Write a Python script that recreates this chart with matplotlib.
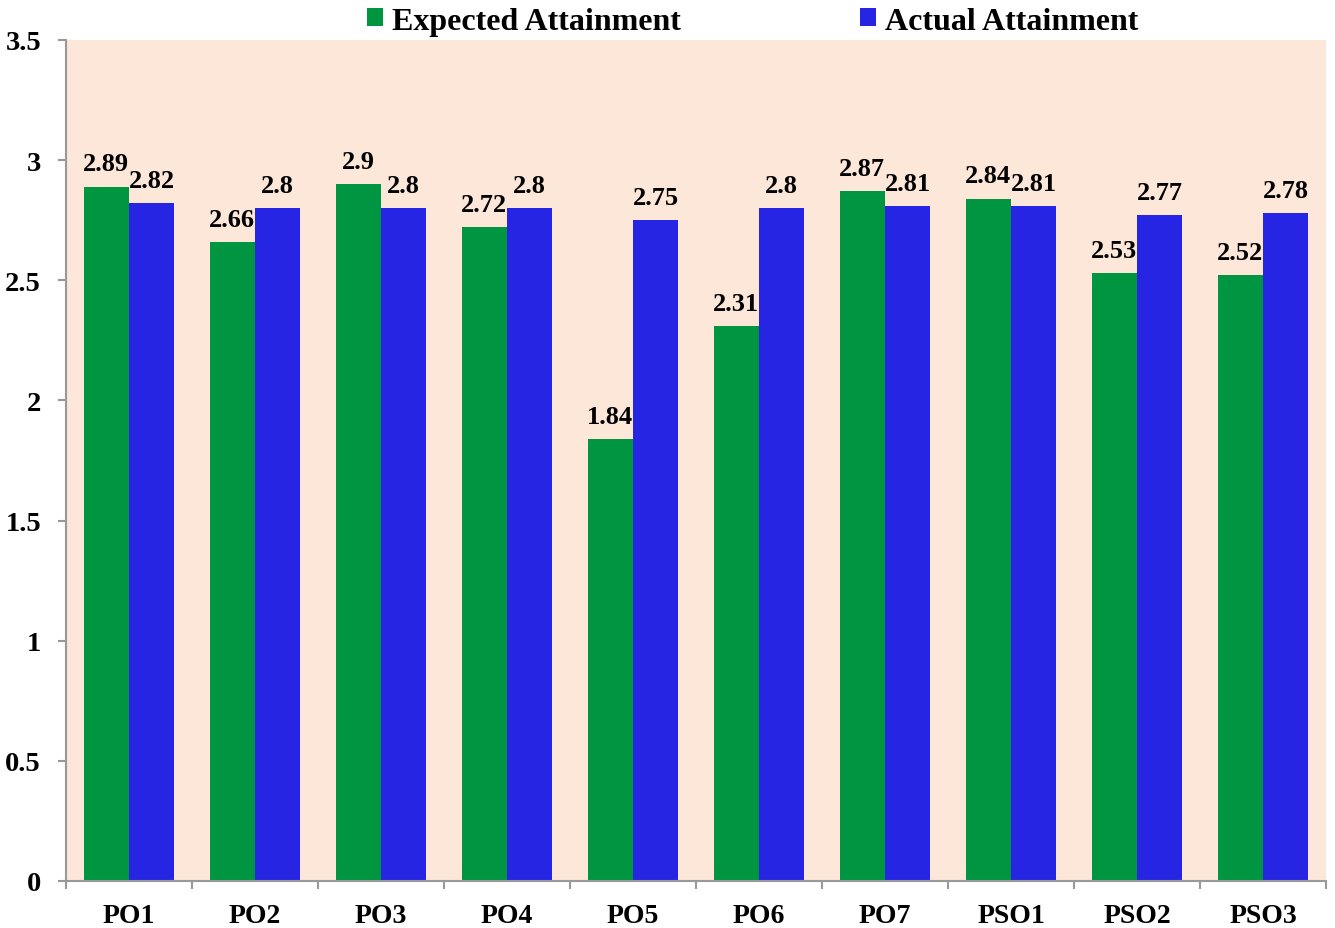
import matplotlib.pyplot as plt
import numpy as np

categories = ['PO1', 'PO2', 'PO3', 'PO4', 'PO5', 'PO6', 'PO7', 'PSO1', 'PSO2', 'PSO3']
expected = [2.89, 2.66, 2.9, 2.72, 1.84, 2.31, 2.87, 2.84, 2.53, 2.52]
actual = [2.82, 2.8, 2.8, 2.8, 2.75, 2.8, 2.81, 2.81, 2.77, 2.78]

plt.rcParams['font.family'] = ['Liberation Serif', 'DejaVu Serif']
plt.rcParams['font.weight'] = 'bold'

fig = plt.figure(figsize=(13.35, 9.29), dpi=100)
ax = fig.add_axes([0.0494, 0.0506, 0.9439, 0.9053])
ax.set_facecolor('#FCE7D9')

x = np.arange(len(categories))
w = 0.36
b1 = ax.bar(x - w / 2, expected, w, color='#009540', label='Expected Attainment')
b2 = ax.bar(x + w / 2, actual, w, color='#2525E3', label='Actual Attainment')

for bars, vals in ((b1, expected), (b2, actual)):
    for r, v in zip(bars, vals):
        ax.annotate(f'{v:g}', (r.get_x() + r.get_width() / 2, v), xytext=(0, 8),
                    textcoords='offset points', ha='center', va='bottom',
                    fontsize=19, fontweight='bold')

ax.set_xlim(-0.5, len(categories) - 0.5)
ax.set_ylim(0, 3.5)
ax.set_yticks([0, 0.5, 1, 1.5, 2, 2.5, 3, 3.5])
ax.set_yticklabels(['0', '0.5', '1', '1.5', '2', '2.5', '3', '3.5'], fontsize=20.5, fontweight='bold')
ax.set_xticks(x)
ax.set_xticklabels(categories, fontsize=20, fontweight='bold')
ax.set_xticks(np.arange(len(categories) + 1) - 0.5, minor=True)
ax.tick_params(axis='x', which='major', length=0, pad=16)
ax.tick_params(axis='x', which='minor', length=6, color='#999999', width=1.5, direction='out')
ax.tick_params(axis='y', length=6, color='#999999', width=1.5, direction='out', pad=12)

for s in ('top', 'right'):
    ax.spines[s].set_visible(False)
for s in ('left', 'bottom'):
    ax.spines[s].set_color('#999999')
    ax.spines[s].set_linewidth(1.5)

ax.legend(loc='lower center', bbox_to_anchor=(0.545, 0.99), ncol=2, frameon=False,
          handlelength=0.5, handleheight=0.5, handletextpad=0.3,
          columnspacing=5.6, borderaxespad=0, prop={'size': 23, 'weight': 'bold'})

fig.savefig('out.png', dpi=100)
